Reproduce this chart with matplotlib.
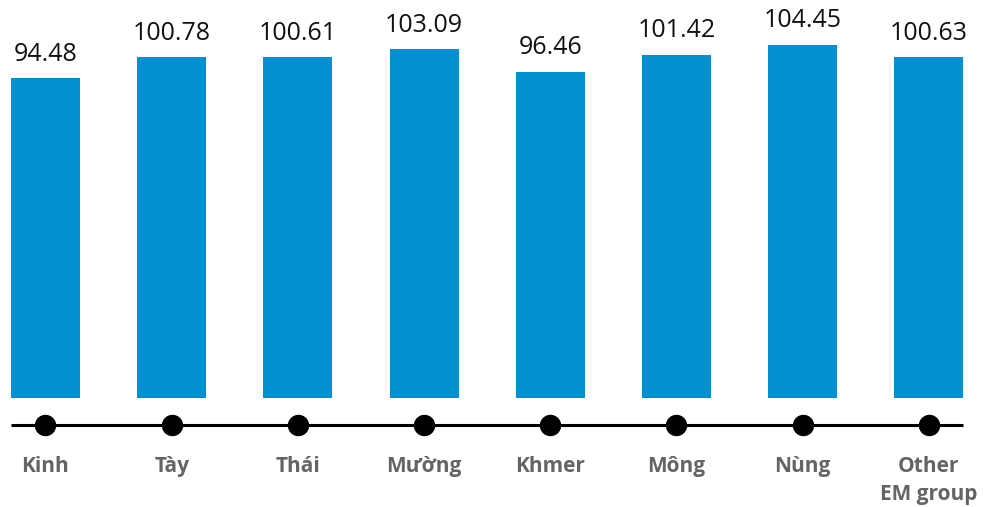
import matplotlib
matplotlib.use("Agg")
from matplotlib import pyplot as plt

# sex ratio by ethnic group
groups = ["Kinh", "Tày", "Thái", "Mường", "Khmer", "Mông", "Nùng", "Other\nEM group"]
ratios = [94.48, 100.78, 100.61, 103.09, 96.46, 101.42, 104.45, 100.63]
value_labels = ["94.48", "100.78", "100.61", "103.09", "96.46", "101.42", "104.45", "100.63"]

bar_color = "#008fd1"
label_color = "#636466"
bar_width = 0.548

fig = plt.figure(figsize=(9.84, 5.07), dpi=100)
ax = fig.add_axes([0, 0.215, 1, 0.785])

x = list(range(len(groups)))
ax.bar(x, ratios, width=bar_width, color=bar_color, linewidth=0)

for xi, v, txt in zip(x, ratios, value_labels):
    ax.annotate(txt, (xi, v), xytext=(0, 12.5), textcoords="offset points",
                ha="center", va="baseline", fontsize=18,
                family="Open Sans", color="#111111")

# baseline with dots under the bars
line_y = -7.98
ax.plot([x[0] - bar_width / 2, x[-1] + bar_width / 2], [line_y, line_y],
        color="black", lw=2.2, clip_on=False, solid_capstyle="butt")
ax.plot(x, [line_y] * len(x), "o", color="black", markersize=14.4,
        clip_on=False)

# category labels, one text per line so the first line sits on the same baseline
line_ys = [-21.9, -30.1]
for xi, name in zip(x, groups):
    for j, part in enumerate(name.split("\n")):
        ax.text(xi, line_ys[j], part, ha="center", va="baseline",
                fontsize=15, fontweight="bold", family="Open Sans",
                color=label_color, clip_on=False)

ax.set_xlim(-0.3605, 7.4366)
ax.set_ylim(0, 117.6)
ax.axis("off")

fig.savefig("out.png", dpi=100)
